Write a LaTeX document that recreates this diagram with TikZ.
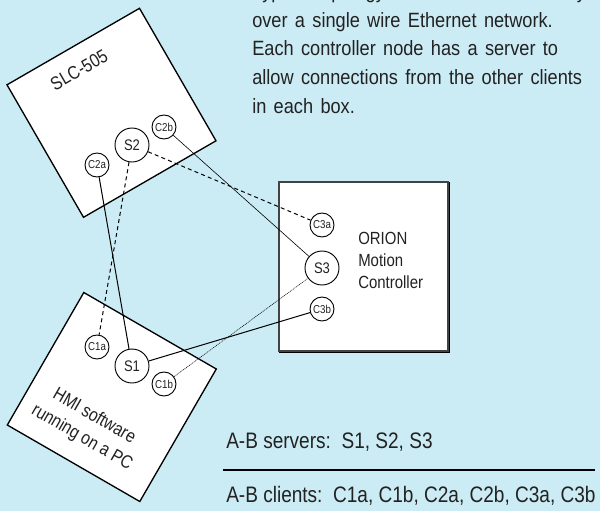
\documentclass[tikz,border=0pt]{standalone}
\usepackage{fontspec}
\setmainfont{Liberation Sans}[FakeStretch=0.85]
\newfontfamily\plainsans{Liberation Sans}
\newfontfamily\descfont{Liberation Sans}[FakeStretch=0.88]
\newcommand\mydescsetup{\descfont\fontsize{15.5}{21.5}\selectfont}
\definecolor{bgblue}{RGB}{204,236,245}
\definecolor{ink}{RGB}{34,34,34}
\begin{document}
\begin{tikzpicture}[x=0.75pt,y=-0.75pt,
  box/.style={draw=black,fill=white,line width=1pt,minimum size=114.75pt,inner sep=0pt},
  srv/.style={circle,draw=black,fill=white,line width=0.7pt,minimum size=25.5pt,inner sep=0pt,font=\fontsize{11.5}{12}\selectfont,text=ink},
  cli/.style={circle,draw=black,fill=white,line width=0.7pt,minimum size=18pt,inner sep=0pt,font=\fontsize{8.6}{9}\selectfont,text=ink},
  solidc/.style={line width=0.75pt},
  thinc/.style={line width=0.45pt},
  dashc/.style={line width=0.75pt,dash pattern=on 3pt off 2.4pt},
  dotc/.style={line width=0.4pt,dash pattern=on 0.8pt off 0.6pt},
  lbl/.style={text=ink,inner sep=0pt}]
\useasboundingbox (0,0) rectangle (600,511);
\fill[bgblue] (0,0) rectangle (600,511);

% boxes
\node[box,rotate=30] (slc) at (111.5,112.8) {};
\node[box,rotate=-30] (hmi) at (111.8,397) {};
\draw[line width=0.8pt] (280,183) rectangle (449,352);
\draw[line width=0.8pt,draw=ink!85,fill=white] (279,182) rectangle (448,351);
\coordinate (orion) at (363.5,266.5);

% box labels
\node[lbl,rotate=30,font=\plainsans\fontsize{14}{16}\selectfont] (slclbl) at (79,70) {\scalebox{0.85}[1]{SLC-505}};
\node[lbl,rotate=-30,font=\plainsans\fontsize{13.8}{18.3}\selectfont] (hmilbl) at (88,427)
  {\scalebox{0.85}[1]{\begin{tabular}{@{}c@{}}HMI software\\running on a PC\end{tabular}}};
\node[lbl,anchor=north west,align=left,font=\fontsize{13.2}{16.5}\selectfont] (orionlbl) at (358,232) {ORION\\Motion\\Controller};

% servers and clients
\node[srv] (s2) at (132,145) {S2};
\node[cli] (c2a) at (97,165) {C2a};
\node[cli] (c2b) at (164,127) {C2b};
\node[srv] (s1) at (132,366) {S1};
\node[cli] (c1a) at (97,347) {C1a};
\node[cli] (c1b) at (164,384) {C1b};
\node[srv] (s3) at (322,268) {S3};
\node[cli] (c3a) at (322,225) {C3a};
\node[cli] (c3b) at (322,309) {C3b};

% connectors
\draw[solidc] (c2a) -- (s1);
\draw[dashc] (s2) -- (c1a);
\draw[dashc] (s2) -- (c3a);
\draw[thinc] (c2b) -- (s3);
\draw[solidc] (s1) -- (c3b);
\draw[dotc] (c1b) -- (s3);

% description text
\node[lbl,anchor=north west,font=\mydescsetup] (desc) at (252,-21.8)
 {\spaceskip=5.5pt plus 1pt\relax
  \begin{tabular}{@{}l@{}}Typical topology for the A-B connectivity\\over a single wire Ethernet network.\\Each controller node has a server to\\allow connections from the other clients\\in each box.\end{tabular}};

% legend
\node[lbl,anchor=base west,font=\fontsize{16.8}{18}\selectfont] (servers) at (226,448) {A-B servers:\ \ S1, S2, S3};
\draw[line width=0.8pt] (223,470) -- (595,470);
\node[lbl,anchor=base west,font=\fontsize{16.8}{18}\selectfont] (clients) at (226,502) {A-B clients:\ \ C1a, C1b, C2a, C2b, C3a, C3b};
\end{tikzpicture}
\end{document}
